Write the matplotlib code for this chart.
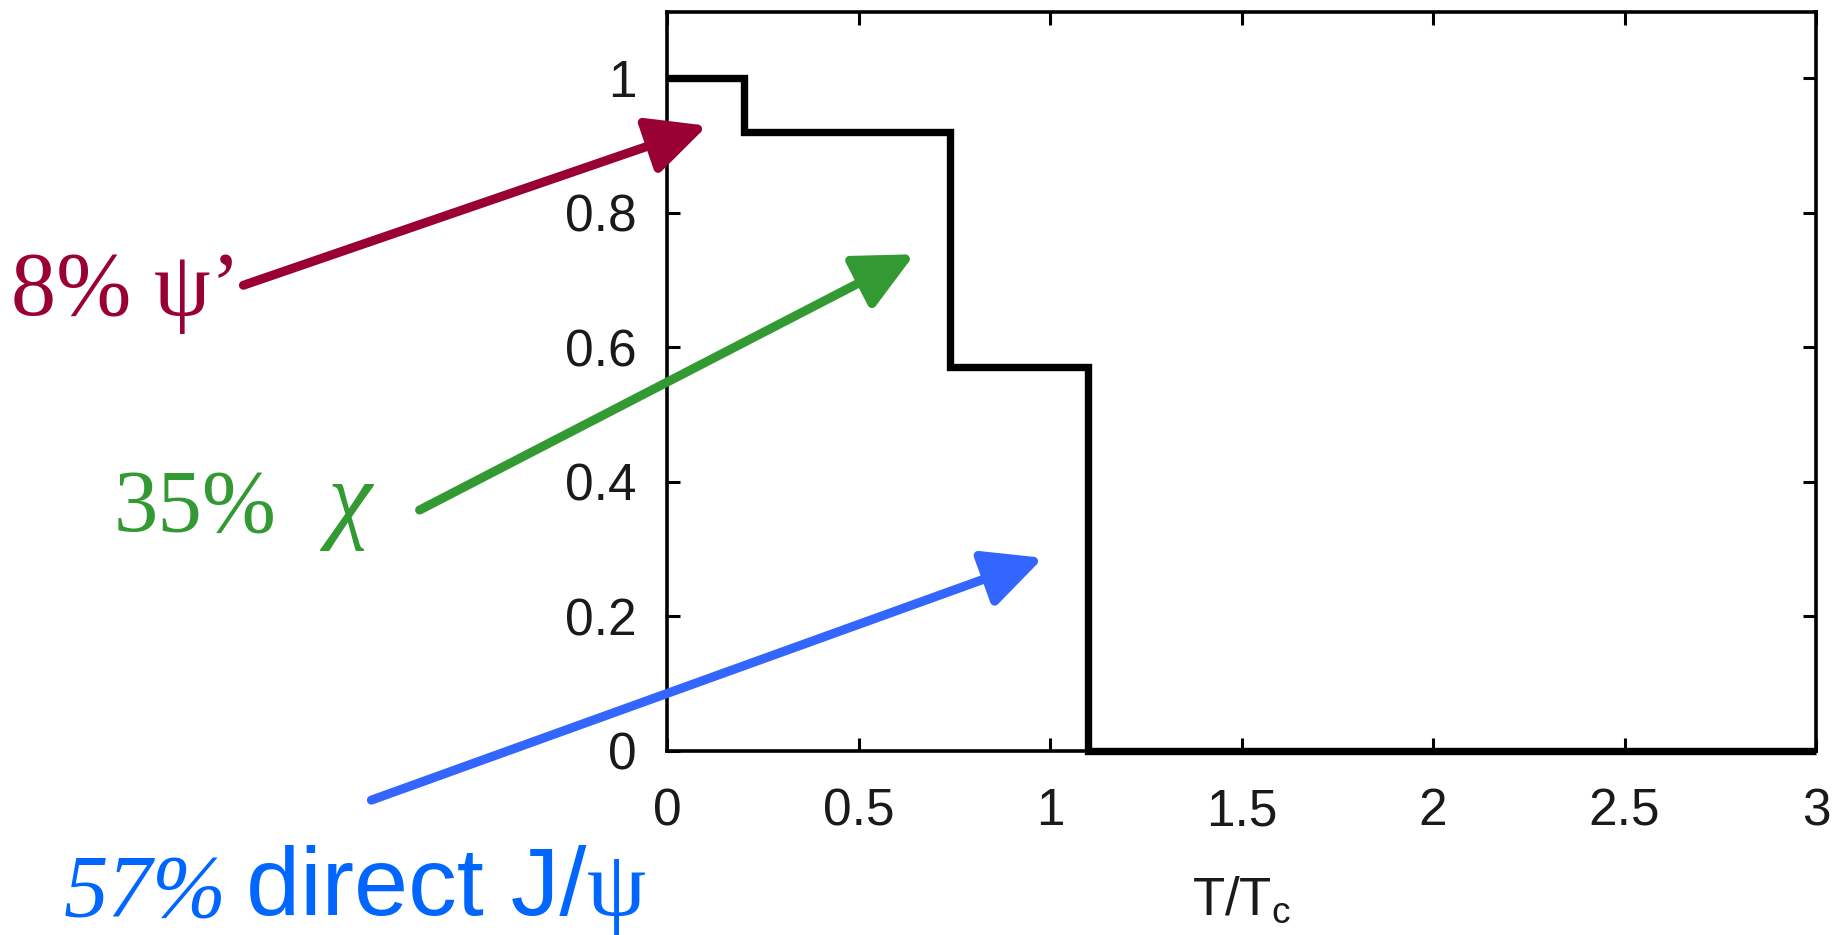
import matplotlib
matplotlib.use("Agg")
import matplotlib.pyplot as plt
from matplotlib.ticker import FixedLocator

# ---- data ----
edges = [0.0, 0.2, 0.74, 1.1, 3.0]
levels = [1.0, 0.92, 0.57, 0.0]
xticks = [0, 0.5, 1, 1.5, 2, 2.5, 3]
xticklabels = ["0", "0.5", "1", "1.5", "2", "2.5", "3"]
yticks = [0, 0.2, 0.4, 0.6, 0.8, 1.0]
yticklabels = ["0", "0.2", "0.4", "0.6", "0.8", "1"]

red = "#990033"
green = "#339933"
blue_arrow = "#3366ff"
blue_text = "#0066ff"

fig = plt.figure(figsize=(18.45, 9.35), dpi=100)
ax = fig.add_axes([667/1845, 1-751/935, (1816-667)/1845, (751-12)/935])
ax.set_xlim(0, 3)
ax.set_ylim(0, 1.098)

ax.stairs(levels, edges, baseline=None, color="black", linewidth=5.3, clip_on=False, zorder=5)

for s in ax.spines.values():
    s.set_linewidth(2.6)
    s.set_color("black")

ax.xaxis.set_major_locator(FixedLocator(xticks))
ax.yaxis.set_major_locator(FixedLocator(yticks))
ax.set_xticklabels(xticklabels)
ax.set_yticklabels(yticklabels)
ax.tick_params(direction="in", length=9.5, width=2.2, top=True, right=True,
               labelsize=37, colors="black")
ax.tick_params(axis="x", pad=26)
ax.tick_params(axis="y", pad=22)
for lab in ax.get_xticklabels() + ax.get_yticklabels():
    lab.set_fontfamily(["Liberation Sans", "DejaVu Sans"])
    lab.set_color("#1a1a1a")
ax.set_xlabel(r"T/T$_\mathregular{c}$", fontsize=38, family=["Liberation Sans", "DejaVu Sans"],
              labelpad=28, color="#1a1a1a")

# ---- arrows (data coordinates, drawn outside axes) ----
arrows = [
    ((-1.106, 0.692), (0.105, 0.929), red),
    ((-0.646, 0.358), (0.646, 0.738), green),
    ((-0.772, -0.073), (0.982, 0.287), blue_arrow),
]
for tail, head, col in arrows:
    ax.annotate("", xy=head, xytext=tail, xycoords="data", textcoords="data",
                annotation_clip=False,
                arrowprops=dict(arrowstyle="-|>,head_length=3.6,head_width=1.75",
                                color=col, lw=6.5, shrinkA=0, shrinkB=0),
                zorder=6)

serif = ["Liberation Serif", "DejaVu Serif"]
sans = ["Liberation Sans", "DejaVu Sans"]

ax.text(-1.713, 0.648, "8% \u03c8\u2019", fontsize=65, family=serif, color=red,
        ha="left", va="baseline", clip_on=False)
g1 = ax.text(-1.444, 0.328, "35%", fontsize=64, family=serif, color=green,
             ha="left", va="baseline", clip_on=False)
ax.annotate("\u03c7", xy=(1, 0.328), xycoords=(g1, "data"),
            xytext=(36, 0), textcoords="offset points",
            fontsize=72, family=serif, style="italic", color=green,
            ha="left", va="baseline", annotation_clip=False)

t1 = ax.text(-1.575, -0.244, "57%", fontsize=64, family=serif, style="italic",
             color=blue_text, ha="left", va="baseline", clip_on=False)
t2 = ax.annotate("direct J/", xy=(1, -0.244), xycoords=(t1, "data"),
                 xytext=(14, 0), textcoords="offset points",
                 fontsize=70, family=sans, color=blue_text,
                 ha="left", va="baseline", annotation_clip=False)
t3 = ax.annotate("\u03c8", xy=(1, -0.244), xycoords=(t2, "data"),
                 xytext=(0, 0), textcoords="offset points",
                 fontsize=68, family=serif, color=blue_text,
                 ha="left", va="baseline", annotation_clip=False)

fig.savefig("out.png", dpi=100, facecolor="white")
